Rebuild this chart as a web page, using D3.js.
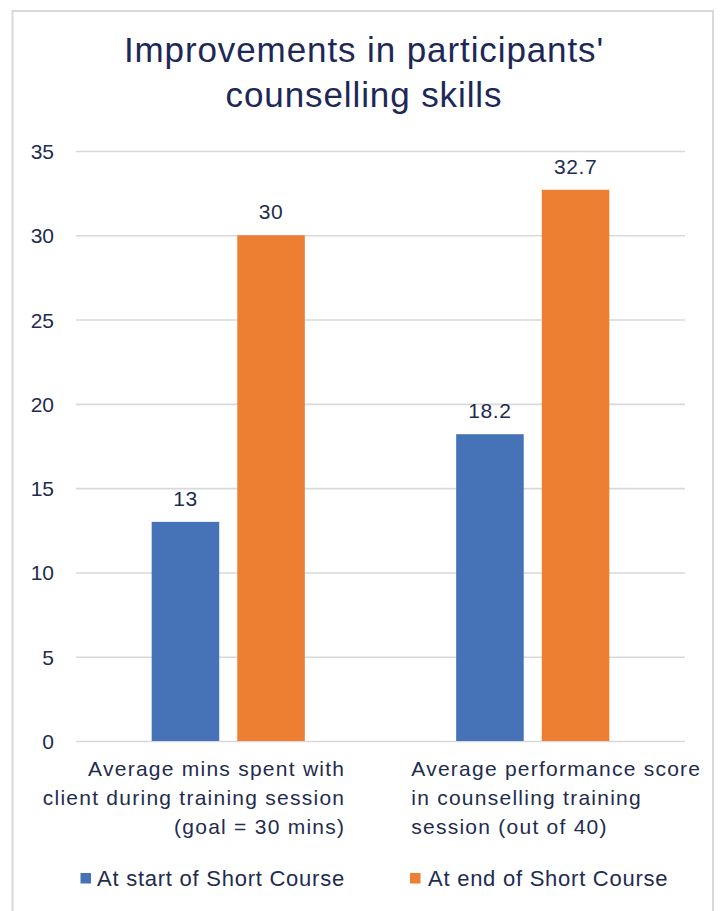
<!DOCTYPE html>
<html>
<head>
<meta charset="utf-8">
<script src="https://cdn.jsdelivr.net/npm/d3@7"></script>
<style>
  html, body { margin: 0; padding: 0; background: #ffffff; }
  svg { display: block; }
  text { font-family: "Liberation Sans", Arial, Helvetica, sans-serif; }
</style>
</head>
<body>
<svg id="chart" width="723" height="911"></svg>
<script>
// ---- data ----
const title = ["Improvements in participants'", "counselling skills"];
const categories = ["Average mins spent with client during training session (goal = 30 mins)",
                    "Average performance score in counselling training session (out of 40)"];
const categoryLines = [
  ["Average mins spent with", "client during training session", "(goal = 30 mins)"],
  ["Average performance score", "in counselling training", "session (out of 40)"]
];
const seriesNames = ["At start of Short Course", "At end of Short Course"];
const startValues = [13, 18.2];
const endValues = [30, 32.7];
const yTicks = [0, 5, 10, 15, 20, 25, 30, 35];

// ---- layout ----
const W = 723, H = 911;
const plot = { left: 76, right: 685, top: 151, bottom: 741 };
const colors = ["#4672B8", "#ED7F33"];
const textColor = "#1E2C4F";
const titleColor = "#1D2857";
const gridColor = "#D9D9D9";

const svg = d3.select("#chart");

// frame
svg.append("rect")
  .attr("x", 12.5).attr("y", 11).attr("width", 700.5).attr("height", 930)
  .attr("fill", "#ffffff").attr("stroke", "#D9D9D9").attr("stroke-width", 2);

// title
svg.append("g").selectAll("text").data(title).join("text")
  .attr("x", 364).attr("y", (d, i) => 62 + i * 45)
  .attr("text-anchor", "middle")
  .attr("font-size", 35).attr("letter-spacing", 0.9)
  .attr("fill", titleColor)
  .text(d => d);

// scales
const y = d3.scaleLinear().domain([0, 35]).range([plot.bottom, plot.top]);
const x0 = d3.scaleBand().domain(categories).range([plot.left, plot.right])
  .paddingInner(0.497).paddingOuter(0.2485);
const x1 = d3.scaleBand().domain(seriesNames).range([0, x0.bandwidth()])
  .paddingInner(0.211).paddingOuter(0);

// gridlines via axis
const yAxis = d3.axisLeft(y).tickValues(yTicks)
  .tickSize(-(plot.right - plot.left)).tickPadding(22).tickFormat(d3.format("d"));
const gy = svg.append("g").attr("transform", `translate(${plot.left},0)`).call(yAxis);
gy.select(".domain").remove();
gy.selectAll(".tick line").attr("stroke", gridColor).attr("stroke-width", 1.6);
gy.selectAll(".tick text")
  .attr("font-size", 21).attr("fill", textColor)
  .attr("font-family", '"Liberation Sans", Arial, sans-serif')
  .attr("dy", "0.36em").attr("x", -22);

// bars
const rows = categories.map((c, i) => ({ cat: c, vals: [startValues[i], endValues[i]] }));
const groups = svg.append("g").selectAll("g").data(rows).join("g")
  .attr("transform", d => `translate(${x0(d.cat)},0)`);

groups.selectAll("rect").data(d => d.vals.map((v, j) => ({ s: seriesNames[j], v, j })))
  .join("rect")
  .attr("x", d => x1(d.s))
  .attr("y", d => y(d.v))
  .attr("width", x1.bandwidth())
  .attr("height", d => y(0) - y(d.v))
  .attr("fill", d => colors[d.j]);

groups.selectAll("text.val").data(d => d.vals.map((v, j) => ({ s: seriesNames[j], v, j })))
  .join("text").attr("class", "val")
  .attr("x", d => x1(d.s) + x1.bandwidth() / 2)
  .attr("y", d => y(d.v) - 16)
  .attr("text-anchor", "middle")
  .attr("font-size", 21).attr("letter-spacing", 0.6)
  .attr("fill", textColor)
  .text(d => d.v);

// category labels
const catAlign = [{ anchor: "end", dx: 117 }, { anchor: "start", dx: -121.5 }];
categories.forEach((c, i) => {
  const cx = x0(c) + x0.bandwidth() / 2 + catAlign[i].dx;
  svg.append("g").selectAll("text").data(categoryLines[i]).join("text")
    .attr("x", cx)
    .attr("y", (d, k) => 776 + k * 29)
    .attr("text-anchor", catAlign[i].anchor)
    .attr("font-size", 21).attr("letter-spacing", 1.25)
    .attr("fill", textColor)
    .text(d => d);
});

// legend
const legendX = [80.5, 410];
const lg = svg.append("g").selectAll("g").data(seriesNames).join("g")
  .attr("transform", (d, i) => `translate(${legendX[i]},873)`);
lg.append("rect").attr("width", 10.5).attr("height", 10.5)
  .attr("fill", (d, i) => colors[i]);
lg.append("text").attr("x", (d, i) => i === 0 ? 16.5 : 18).attr("y", 13)
  .attr("font-size", 22).attr("letter-spacing", 0.75)
  .attr("fill", textColor)
  .text(d => d);
</script>
</body>
</html>
